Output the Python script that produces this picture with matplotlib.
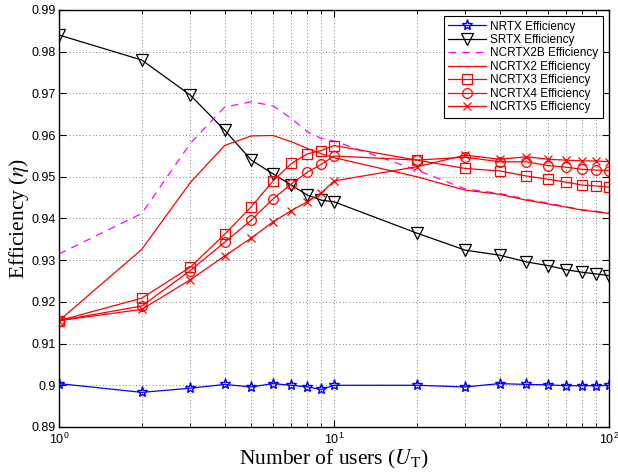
import matplotlib
matplotlib.use('Agg')
import matplotlib.pyplot as plt
from matplotlib.ticker import FixedLocator, LogLocator, NullFormatter

plt.rcParams['font.family'] = ['Liberation Sans', 'DejaVu Sans']
plt.rcParams['mathtext.fontset'] = 'stix'

users = [1, 2, 3, 4, 5, 6, 7, 8, 9, 10, 20, 30, 40, 50, 60, 70, 80, 90, 100]

nrtx = [0.9004, 0.8983, 0.8993, 0.9002, 0.8996, 0.9004, 0.9000, 0.8996, 0.8990, 0.9000,
        0.9000, 0.8996, 0.9004, 0.9002, 0.9001, 0.8999, 0.8999, 0.8999, 0.9000]
srtx = [0.9840, 0.9780, 0.9696, 0.9612, 0.9540, 0.9507, 0.9480, 0.9456, 0.9444, 0.9440,
        0.9365, 0.9324, 0.9312, 0.9296, 0.9287, 0.9277, 0.9271, 0.9267, 0.9263]
ncrtx2b = [0.9315, 0.9412, 0.9580, 0.9667, 0.9680, 0.9670, 0.9640, 0.9608, 0.9592, 0.9586,
           0.9516, 0.9471, 0.9460, 0.9446, 0.9437, 0.9428, 0.9421, 0.9417, 0.9413]
ncrtx2 = [0.9155, 0.9326, 0.9486, 0.9575, 0.9598, 0.9599, 0.9584, 0.9568, 0.9555, 0.9546,
          0.9500, 0.9468, 0.9458, 0.9444, 0.9435, 0.9427, 0.9420, 0.9416, 0.9412]
ncrtx3 = [0.9155, 0.9209, 0.9283, 0.9362, 0.9428, 0.9490, 0.9532, 0.9555, 0.9563, 0.9575,
          0.9540, 0.9520, 0.9514, 0.9502, 0.9494, 0.9487, 0.9480, 0.9478, 0.9475]
ncrtx4 = [0.9155, 0.9190, 0.9275, 0.9343, 0.9396, 0.9447, 0.9483, 0.9511, 0.9530, 0.9550,
          0.9540, 0.9547, 0.9536, 0.9536, 0.9527, 0.9523, 0.9518, 0.9516, 0.9515]
ncrtx5 = [0.9155, 0.9182, 0.9253, 0.9310, 0.9353, 0.9392, 0.9419, 0.9440, 0.9462, 0.9490,
          0.9524, 0.9552, 0.9542, 0.9548, 0.9542, 0.9540, 0.9538, 0.9538, 0.9536]

y_ticks = [0.89, 0.90, 0.91, 0.92, 0.93, 0.94, 0.95, 0.96, 0.97, 0.98, 0.99]
y_tick_labels = ['0.89', '0.9', '0.91', '0.92', '0.93', '0.94', '0.95', '0.96', '0.97', '0.98', '0.99']

fig = plt.figure(figsize=(6.18, 4.76), dpi=100)
ax = fig.add_axes([0.0955, 0.103, 0.890, 0.876])

lw = 0.9
ax.plot(users, nrtx, color='blue', lw=lw, marker='*', ms=8, mfc='none', mew=1.0,
        label='NRTX Efficiency')
ax.plot(users, srtx, color='black', lw=lw, marker='v', ms=9, mfc='none', mew=0.9,
        label='SRTX Efficiency')
ax.plot(users, ncrtx2b, color='magenta', lw=lw, ls=(0, (6, 5)),
        label='NCRTX2B Efficiency')
ax.plot(users, ncrtx2, color='red', lw=lw, label='NCRTX2 Efficiency')
ax.plot(users, ncrtx3, color='red', lw=lw, marker='s', ms=6.5, mfc='none', mew=0.9,
        label='NCRTX3 Efficiency')
ax.plot(users, ncrtx4, color='red', lw=lw, marker='o', ms=7, mfc='none', mew=0.9,
        label='NCRTX4 Efficiency')
ax.plot(users, ncrtx5, color='red', lw=lw, marker='x', ms=6, mew=0.9,
        label='NCRTX5 Efficiency')

ax.set_xscale('log')
ax.set_xlim(1, 100)
ax.set_ylim(0.89, 0.99)
ax.yaxis.set_major_locator(FixedLocator(y_ticks))
ax.set_yticklabels(y_tick_labels)
ax.xaxis.set_minor_locator(LogLocator(base=10, subs=range(2, 10)))
ax.xaxis.set_minor_formatter(NullFormatter())

ax.tick_params(which='both', direction='in', top=True, right=True, labelsize=9)
ax.tick_params(which='major', length=5, width=0.8)
ax.tick_params(axis='y', pad=2.5)
ax.tick_params(which='minor', length=3, width=0.6)
ax.grid(True, which='major', ls=(0, (1, 3)), color='#555555', lw=0.6)
ax.grid(True, which='minor', axis='x', ls=(0, (1, 3)), color='#555555', lw=0.6)
for s in ax.spines.values():
    s.set_linewidth(1.0)

ax.set_xlabel(r'Number of users ($U_\mathrm{T}$)', family='Liberation Serif', fontsize=15.5, labelpad=1)
ax.set_ylabel(r'Efficiency ($\eta$)', family='Liberation Serif', fontsize=15.5, labelpad=0)

leg = ax.legend(loc='upper right', fontsize=8.5, frameon=True, fancybox=False,
                edgecolor='black', framealpha=1, handlelength=3.2,
                labelspacing=0.12, borderaxespad=0.5, borderpad=0.4, handletextpad=0.35)
leg.get_frame().set_linewidth(0.8)

fig.savefig('out.png', dpi=100)
